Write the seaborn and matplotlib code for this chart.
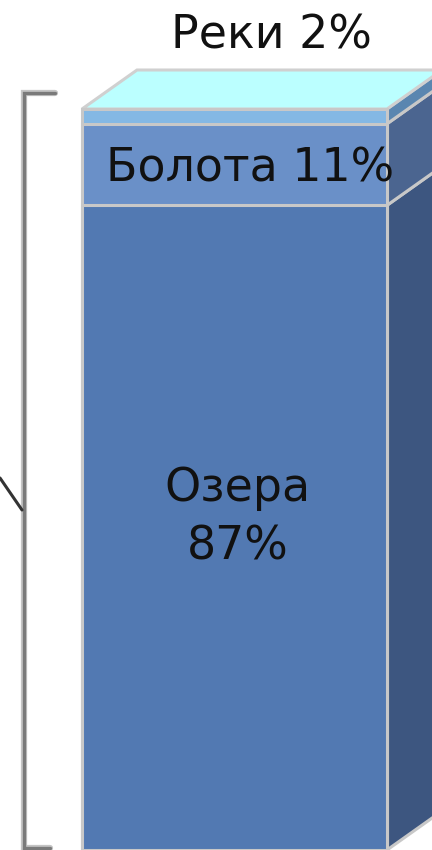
import numpy as np
import pandas as pd
import matplotlib
matplotlib.use("Agg")
import matplotlib.pyplot as plt
from matplotlib.patches import Polygon
import seaborn as sns

# ---- data ----
categories = ["Озера", "Болота", "Реки"]          # bottom -> top
values = [87, 11, 2]                               # percent
front_colors = ["#5279b2", "#6a90c8", "#84b8e4"]
side_colors = ["#3d5680", "#4b6590", "#5a86b0"]
top_color = "#bbffff"

sns.set_theme(style="white")
plt.rcParams['font.family'] = ['DejaVu Sans']

W, H = 432, 850
fig = plt.figure(figsize=(W / 100, H / 100), dpi=100)
fig.patch.set_facecolor("white")
ax = fig.add_axes([0, 0, 1, 1])
ax.set_facecolor("white")

# pixel layout of the bar
bar_left_px, bar_right_px = 82, 387
bar_w_px = bar_right_px - bar_left_px
top_px, bottom_px = 109, 850
xlim = (-0.5 - bar_left_px / bar_w_px, 0.5 + (W - bar_right_px) / bar_w_px)
ppu_y = (bottom_px - top_px) / 100.0
ylim = (0, 100 + top_px / ppu_y)

cum = np.cumsum(values)
df = pd.DataFrame({"x": ["bar"] * len(values), "top": cum, "cat": categories})

# draw stacked bars (tallest first, so shorter segments sit over them)
for i in reversed(range(len(values))):
    sns.barplot(data=df.iloc[[i]], x="x", y="top", color=front_colors[i],
                width=1.0, edgecolor="#c8c8c8", linewidth=2.2,
                saturation=1, ax=ax, zorder=2)

ax.set_xlim(*xlim)
ax.set_ylim(*ylim)
ax.axis("off")

# 3D depth
dx = 55 / bar_w_px
dy = 39 / ppu_y
bottoms = np.concatenate([[0], cum[:-1]])
for b, t, c in zip(bottoms, cum, side_colors):
    poly = Polygon([(0.5, b), (0.5, t), (0.5 + dx, t + dy), (0.5 + dx, b + dy)],
                   closed=True, facecolor=c, edgecolor="#c8c8c8", linewidth=2.2,
                   zorder=1.5)
    ax.add_patch(poly)
top = Polygon([(-0.5, cum[-1]), (0.5, cum[-1]), (0.5 + dx, cum[-1] + dy),
               (-0.5 + dx, cum[-1] + dy)], closed=True, facecolor=top_color,
              edgecolor="#d0d0d0", linewidth=2.2, zorder=1.6)
ax.add_patch(top)

# labels
txt_kw = dict(color="#111111", fontsize=33, ha="center", va="center", zorder=5)
ax.text(0.01, (bottoms[0] + cum[0]) / 2 + 10 / ppu_y, f"{categories[0]}\n{values[0]}%",
        linespacing=1.38, **txt_kw)
ax.text(0.05, (bottoms[1] + cum[1]) / 2 - 4 / ppu_y, f"{categories[1]} {values[1]}%", **txt_kw)
ax.text(0.12, 100 + 73 / ppu_y, f"{categories[2]} {values[2]}%", **txt_kw)

# bracket on the left (pixel coords -> figure fraction)
def P(x, y):
    return (x / W, 1 - y / H)

for lw, col in [(4.5, "#c4c4c4"), (2.4, "#7a7a7a")]:
    xs, ys = zip(*[P(55, 93), P(24, 93), P(24, 848), P(50, 848)])
    fig.add_artist(plt.Line2D(xs, ys, transform=fig.transFigure, color=col, lw=lw,
                              solid_joinstyle="miter"))
xs, ys = zip(*[P(0, 478), P(22, 510)])
fig.add_artist(plt.Line2D(xs, ys, transform=fig.transFigure, color="#333333", lw=2.2))

fig.savefig("out.png", dpi=100, facecolor="white")
